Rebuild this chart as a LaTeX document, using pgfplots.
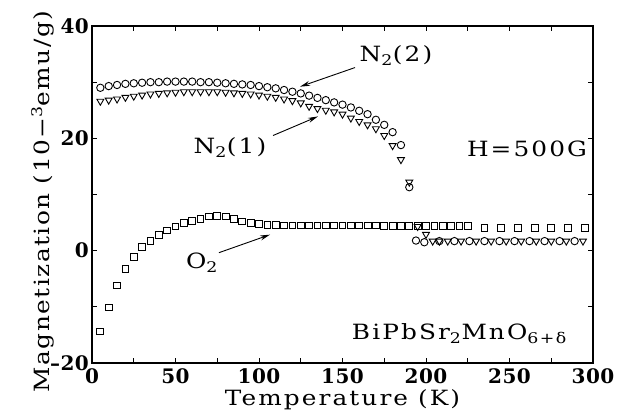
\documentclass[border=0pt]{standalone}
\usepackage{fontspec}
\usepackage{pgfplots}
\usepackage{pgfplotstable}
\pgfplotsset{compat=1.18}
\usetikzlibrary{arrows.meta}
\newfontfamily\lab{DejaVu Serif}[FakeStretch=1.18, LetterSpace=10]
\newfontfamily\ylab{DejaVu Serif}[FakeStretch=1.18, LetterSpace=7]
\newfontfamily\tickf{DejaVu Serif}[UprightFont=* Bold, LetterSpace=2]
\newcommand\labfont{\lab\fontsize{21}{24}\selectfont}
\newcommand\ylabfont{\ylab\fontsize{21}{24}\selectfont}

% N2(2): circles
\pgfplotstableread{
T M
5 29.0
10 29.3
15 29.5
20 29.7
25 29.8
30 29.9
35 30.0
40 30.0
45 30.1
50 30.1
55 30.1
60 30.1
65 30.0
70 30.0
75 29.9
80 29.8
85 29.7
90 29.6
95 29.5
100 29.3
105 29.1
110 28.9
115 28.6
120 28.3
125 28.0
130 27.6
135 27.2
140 26.8
145 26.4
150 26.0
155 25.5
160 24.9
165 24.3
170 23.3
175 22.4
180 21.1
185 18.8
190 11.3
194 1.8
199 1.5
208 1.7
217 1.7
226 1.7
235 1.7
244 1.7
253 1.7
262 1.7
271 1.7
280 1.7
289 1.7
}\ntwo

% N2(1): down triangles
\pgfplotstableread{
T M
5 26.6
10 26.8
15 27.0
20 27.3
25 27.5
30 27.7
35 27.9
40 28.0
45 28.1
50 28.2
55 28.3
60 28.3
65 28.3
70 28.3
75 28.3
80 28.2
85 28.1
90 28.0
95 27.9
100 27.7
105 27.5
110 27.3
115 27.0
120 26.7
125 26.3
130 25.7
135 25.3
140 25.0
145 24.7
150 24.3
155 23.6
160 23.0
165 22.4
170 21.7
175 20.5
180 18.7
185 16.2
190 12.2
195 4.3
200 2.9
204 1.7
208 1.7
213 1.7
221 1.7
230 1.7
239 1.7
248 1.7
257 1.7
266 1.7
275 1.7
284 1.7
294 1.7
}\none

% O2: squares
\pgfplotstableread{
T M
5 -14.4
10 -10.1
15 -6.2
20 -3.3
25 -1.1
30 0.6
35 1.8
40 2.8
45 3.6
50 4.3
55 4.9
60 5.3
65 5.6
70 6.1
75 6.2
80 6.1
85 5.7
90 5.2
95 4.9
100 4.7
105 4.6
110 4.6
115 4.5
120 4.5
125 4.5
130 4.5
135 4.5
140 4.5
145 4.5
150 4.5
155 4.5
160 4.5
165 4.5
170 4.5
175 4.4
180 4.4
185 4.4
190 4.4
195 4.4
200 4.4
205 4.4
210 4.4
215 4.4
220 4.4
225 4.4
235 4.0
245 4.0
255 4.0
265 4.0
275 4.0
285 4.0
295 4.0
}\otwo

\begin{document}
\begin{tikzpicture}
\begin{axis}[
  scale only axis, width=501pt, height=337pt,
  xmin=0, xmax=300, ymin=-20, ymax=40,
  xtick={0,50,...,300}, minor xtick={25,75,...,275},
  ytick={-20,0,20,40}, yticklabels={–20,0,20,40}, minor ytick={-10,10,30},
  tick align=inside, major tick length=5pt, minor tick length=5pt,
  every tick/.style={line width=0.9pt, black},
  axis line style={line width=1.1pt},
  /pgf/number format/assume math mode=true,
  ticklabel style={font=\tickf\fontsize{20}{22}\selectfont, inner sep=2pt},
  xticklabel style={yshift=-3pt},
  yticklabel style={xshift=-1pt},
  xlabel={Temperature (K)},
  ylabel={Magnetization (10−\textsuperscript{3}emu/g)},
  every axis x label/.style={at={(axis description cs:0.5,0)}, yshift=-43pt, anchor=base, font=\labfont},
  every axis y label/.style={at={(axis description cs:0,0.5)}, xshift=-42pt, yshift=-7pt, rotate=90, anchor=base, font=\ylabfont},
  clip=false,
]
\addplot[only marks, mark=o, mark size=3.7pt, mark options={line width=0.9pt, black}] table[x=T, y=M] {\ntwo};
\addplot[only marks, mark=triangle, mark size=4pt, mark options={line width=0.9pt, black, rotate=180}] table[x=T, y=M] {\none};
\addplot[only marks, mark=square, mark size=3.4pt, mark options={line width=0.9pt, black}] table[x=T, y=M] {\otwo};

\node[font=\labfont] at (axis cs:182,34.7) {N\textsubscript{2}(2)};
\draw[line width=0.9pt, -{Stealth[length=10pt,width=5pt]}] (axis cs:157.5,32.6) -- (axis cs:124.6,29.2);
\node[font=\labfont] at (axis cs:82.6,18.3) {N\textsubscript{2}(1)};
\draw[line width=0.9pt, -{Stealth[length=10pt,width=5pt]}] (axis cs:108.4,20.5) -- (axis cs:135.3,23.9);
\node[font=\labfont] at (axis cs:65.9,-2.1) {O\textsubscript{2}};
\draw[line width=0.9pt, -{Stealth[length=10pt,width=5pt]}] (axis cs:76,-0.36) -- (axis cs:106.6,2.85);
\node[font=\labfont] at (axis cs:260.5,18.2) {H=500G};
\node[font=\labfont] at (axis cs:220,-14.8) {BiPbSr\textsubscript{2}MnO\textsubscript{6+δ}};
\end{axis}
\pgfresetboundingbox
\path ([shift={(-92pt,-51pt)}]current axis.south west) rectangle ([shift={(530pt,363pt)}]current axis.south west);
\end{tikzpicture}
\end{document}
